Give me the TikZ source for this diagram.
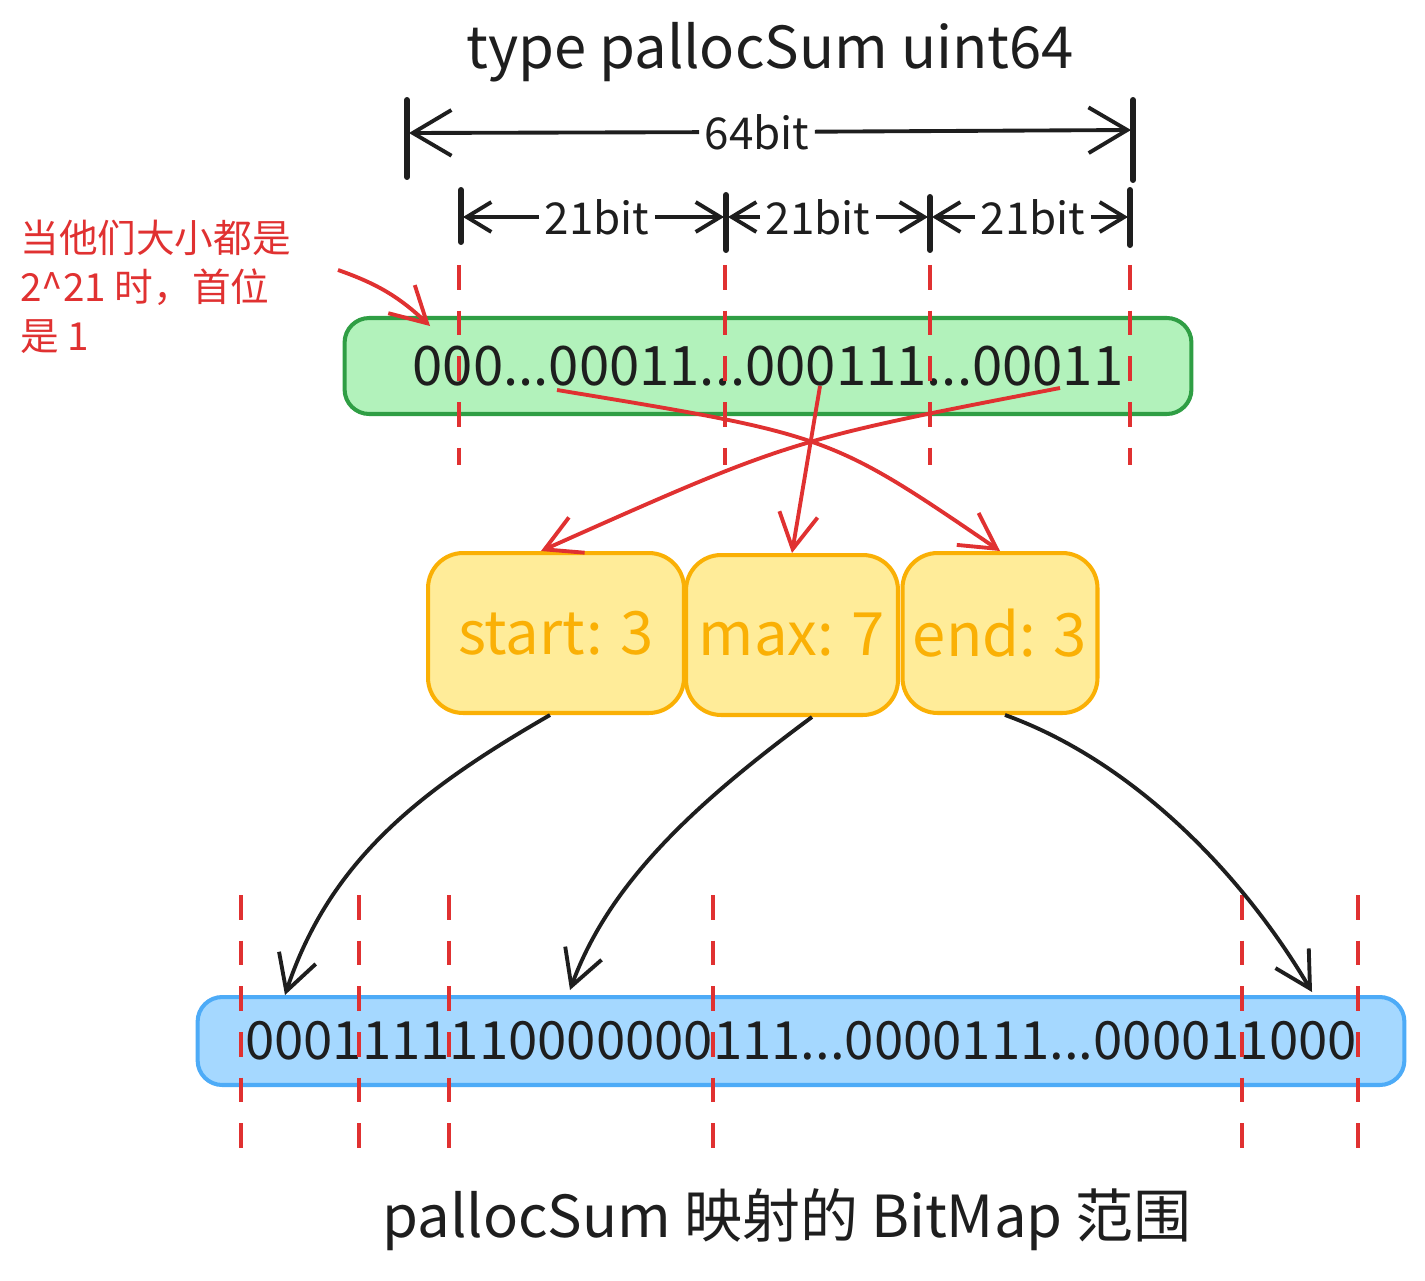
\documentclass[tikz,border=0pt]{standalone}
\usepackage{fontspec}
\setmainfont{Noto Sans CJK SC}
\usetikzlibrary{arrows.meta}
\definecolor{ink}{HTML}{1E1E1E}
\definecolor{alert}{HTML}{E03131}
\definecolor{leaf}{HTML}{B2F2BB}
\definecolor{leafline}{HTML}{2F9E44}
\definecolor{sun}{HTML}{FFEC99}
\definecolor{sunline}{HTML}{FAB005}
\definecolor{sky}{HTML}{A5D8FF}
\definecolor{skyline}{HTML}{4DABF7}

\begin{document}
\begin{tikzpicture}[x=0.02cm,y=-0.02cm,
 title/.style={font=\fontsize{33}{40}\selectfont,text=ink,inner sep=0pt},
 dimtext/.style={font=\fontsize{25}{30}\selectfont,text=ink,inner sep=3pt},
 bar/.style={ink,line width=3.4pt,line cap=round},
 dimline/.style={ink,line width=2.2pt,-{Straight Barb[length=22pt,width=26pt,line width=2.2pt]}},
 dimsmall/.style={dimline,-{Straight Barb[length=14pt,width=17pt,line width=2.2pt]}},
 cut/.style={alert,line width=1.8pt,dash pattern=on 14pt off 12pt},
 bitrow/.style={rounded corners=14pt,line width=2.3pt,text=ink,inner sep=0pt},
 field/.style={rounded corners=20pt,line width=2.3pt,fill=sun,draw=sunline,text=sunline,minimum height=3.2cm,font=\fontsize{34}{40}\selectfont},
 pick/.style={alert,line width=2.2pt,-{Straight Barb[length=20pt,width=22pt,line width=2.2pt]}},
 map/.style={ink,line width=2.2pt,-{Straight Barb[length=20pt,width=22pt,line width=2.2pt]}},
 note/.style={font=\fontsize{22}{28}\selectfont,text=alert,align=left,inner sep=0pt}]
 \useasboundingbox (0,0) rectangle (1425,1280);
 \node[title] (ttl) at (770,52) {type pallocSum uint64};
 % dimension bars
 \draw[bar] (407,100) -- (407,177); \draw[bar] (1133,100) -- (1133,180);
 \draw[bar] (461,190) -- (461,242); \draw[bar] (726,195) -- (726,250);
 \draw[bar] (930,197) -- (930,250); \draw[bar] (1130,190) -- (1130,245);
 \coordinate (w0) at (409,133); \coordinate (w1) at (1131,130);
 \coordinate (v0) at (463,217); \coordinate (v1) at (724,217); \coordinate (v2) at (728,217);
 \coordinate (v3) at (928,217); \coordinate (v4) at (932,217); \coordinate (v5) at (1128,217);
 \node[dimtext] (l64) at (757,132) {64bit};
 \node[dimtext] (la) at (597,217) {21bit}; \node[dimtext] (lb) at (818,217) {21bit};
 \node[dimtext] (lc) at (1033,217) {21bit};
 \draw[dimline] (l64) -- (w0); \draw[dimline] (l64) -- (w1);
 \draw[dimsmall] (la) -- (v0); \draw[dimsmall] (la) -- (v1); \draw[dimsmall] (lb) -- (v2);
 \draw[dimsmall] (lb) -- (v3); \draw[dimsmall] (lc) -- (v4); \draw[dimsmall] (lc) -- (v5);
 % summary word
 \node[bitrow,fill=leaf,draw=leafline,minimum width=16.94cm,minimum height=1.92cm,font=\fontsize{31}{36}\selectfont] (sum) at (768,366) {000...00011...000111...00011};
 \node[field,minimum width=5.12cm] (fstart) at (556,633) {start: 3};
 \node[field,minimum width=4.24cm] (fmax) at (792,635) {max: 7};
 \node[field,minimum width=3.9cm] (fend) at (1000,633) {end: 3};
 % bitmap
 \node[bitrow,fill=sky,draw=skyline,minimum width=24.14cm,minimum height=1.76cm,font=\fontsize{30}{34}\selectfont] (bmp) at (801,1041) {0001111110000000111...0000111...000011000};
 \foreach \x in {459,725,930,1130} \draw[cut] (\x,265) -- (\x,465);
 \foreach \x in {241,359,449,713,1242,1358} \draw[cut] (\x,895) -- (\x,1168);
 % note
 \node[note,anchor=west] (hint) at (20,287) {当他们大小都是\\2\textasciicircum 21 时，首位\\是 1};
 \coordinate (n0) at (338,270); \coordinate (n1) at (430,326);
 \draw[pick] (n0) to[bend left=12] (n1);
 \coordinate (s1) at (557,390); \coordinate (s2) at (820,386); \coordinate (s3) at (1060,388);
 \draw[pick] (s1) .. controls (830,435) .. (fend.north);
 \draw[pick] (s2) -- (fmax.north);
 \draw[pick] (s3) .. controls (790,440) .. ([xshift=-0.3cm]fstart.north);
 \coordinate (t1) at (285,995); \coordinate (t2) at (570,990); \coordinate (t3) at (1312,992);
 \draw[map] ([xshift=-0.12cm]fstart.south) .. controls (420,790) and (330,860) .. (t1);
 \draw[map] ([xshift=0.4cm]fmax.south) .. controls (700,800) and (610,880) .. (t2);
 \draw[map] ([xshift=0.1cm]fend.south) .. controls (1130,760) and (1240,870) .. (t3);
 \node[title,font=\fontsize{33}{40}\selectfont] (cap) at (787,1220) {pallocSum 映射的 BitMap 范围};
\end{tikzpicture}
\end{document}
